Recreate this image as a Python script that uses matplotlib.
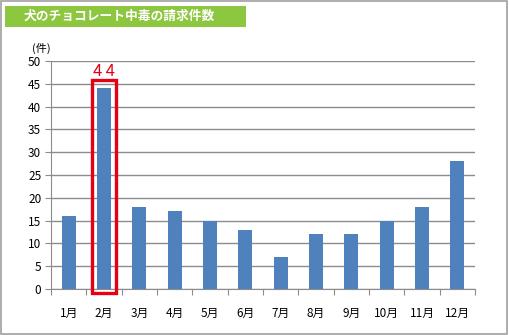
import matplotlib.pyplot as plt
from matplotlib.patches import Rectangle

plt.rcParams['font.family'] = ['Noto Sans CJK JP', 'DejaVu Sans']

months = ['1月', '2月', '3月', '4月', '5月', '6月', '7月', '8月', '9月', '10月', '11月', '12月']
claims = [16, 44, 18, 17, 15, 13, 7, 12, 12, 15, 18, 28]
highlight = 1  # 2月

fig = plt.figure(figsize=(5.09, 3.35), dpi=100)

# 外枠
fig.patches.append(Rectangle((0.001, 0.003), 0.996, 0.995, transform=fig.transFigure,
                             fill=False, edgecolor='#a0a0a0', linewidth=1.2))

# タイトル帯
fig.patches.append(Rectangle((5 / 509, 1 - 27 / 335), 241 / 509, 21 / 335, transform=fig.transFigure,
                             facecolor='#8dc63f', edgecolor='none'))
fig.text(24 / 509, 1 - 16.5 / 335, '犬のチョコレート中毒の請求件数', color='white',
         fontsize=9.2, fontweight='bold', va='center')

ax = fig.add_axes([51 / 509, 1 - 289 / 335, 424 / 509, 228 / 335])
x = range(len(months))
ax.bar(x, claims, width=0.4, color='#4f81bd', zorder=3)

ax.set_xlim(-0.5, len(months) - 0.5)
ax.set_ylim(0, 50)
ax.set_yticks(range(0, 51, 5))
ax.yaxis.grid(True, color='#8c8c8c', linewidth=1)
ax.set_axisbelow(True)
for s in ['top', 'right']:
    ax.spines[s].set_visible(False)
ax.spines['left'].set_color('#8c8c8c')
ax.spines['bottom'].set_color('#8c8c8c')

ax.set_xticks([i + 0.5 for i in range(-1, len(months))])
ax.set_xticklabels([])
ax.set_xticks(list(x), minor=True)
ax.set_xticklabels(months, minor=True, fontsize=8.5)
ax.tick_params(axis='x', which='major', length=4, color='#8c8c8c', direction='out')
ax.tick_params(axis='x', which='minor', length=0, pad=13)
ax.tick_params(axis='y', length=4, color='#8c8c8c', labelsize=8.5, pad=3)

ax.text(-0.5, 51.5, '(件)', fontsize=8, ha='right', va='bottom', transform=ax.transData)

# 2月を強調
ax.add_patch(Rectangle((highlight - 0.35, -0.9), 0.7, 46.7, fill=False,
                       edgecolor='#e60012', linewidth=2.4, clip_on=False, zorder=4))
ax.text(highlight, 47.6, '\u2009'.join(str(claims[highlight])), color='#e60012', fontsize=12,
        ha='center', va='center')

fig.savefig('out.png', dpi=100)
